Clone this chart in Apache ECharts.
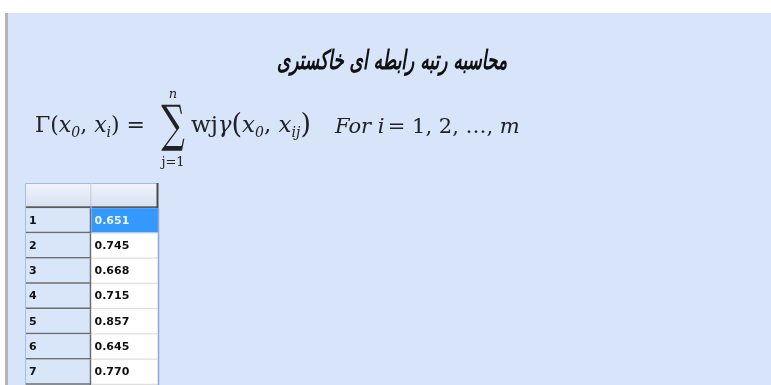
<!DOCTYPE html>
<html>
<head>
<meta charset="utf-8">
<script src="https://cdn.jsdelivr.net/npm/echarts@6/dist/echarts.min.js"></script>
<style>
html,body{margin:0;padding:0;background:#fff;}
#main{width:771px;height:385px;}
</style>
</head>
<body>
<div id="main"></div>
<script>
// grey relational grade of each alternative
const rowLabels = ['1', '2', '3', '4', '5', '6', '7'];
const gradeValues = [0.651, 0.745, 0.668, 0.715, 0.857, 0.645, 0.770];
const columns = ['label', 'grade'];
const selectedRow = 0;

const titleText = 'محاسبه رتبه رابطه ای خاکستری';

// y categories: header row first, then one row per alternative
const yCats = [''].concat(rowLabels);
const cells = [[0, 0], [1, 0]];
rowLabels.forEach((r, i) => {
    cells.push([0, i + 1]);
    cells.push([1, i + 1]);
});

const mathFont = '"DejaVu Serif", "Liberation Serif", serif';

function renderCell(params, api) {
    const col = api.value(0);
    const row = api.value(1);
    const c = api.coord([col, row]);
    const s = api.size([1, 1]);
    const x0 = c[0] - s[0] / 2, y0 = c[1] - s[1] / 2, w = s[0], h = s[1];
    const kids = [];
    if (row === 0) {
        kids.push({
            type: 'rect', shape: { x: x0, y: y0, width: w, height: h },
            style: {
                fill: new echarts.graphic.LinearGradient(0, 0, 0, 1, [
                    { offset: 0, color: '#f1f5fc' }, { offset: 1, color: '#d5e0f1' }
                ])
            }
        });
        kids.push({ type: 'line', shape: { x1: x0, y1: y0 + 0.5, x2: x0 + w, y2: y0 + 0.5 }, style: { stroke: '#a3bbdc', lineWidth: 1 } });
        kids.push({ type: 'line', shape: { x1: x0, y1: y0 + h - 1, x2: x0 + w, y2: y0 + h - 1 }, style: { stroke: '#5c5c5c', lineWidth: 2 } });
        kids.push({ type: 'line', shape: { x1: x0 + w - 0.5, y1: y0, x2: x0 + w - 0.5, y2: y0 + h }, style: { stroke: col === 0 ? '#b5bfcc' : '#4a4a4a', lineWidth: col === 0 ? 1 : 2 } });
    } else if (col === 0) {
        kids.push({ type: 'rect', shape: { x: x0, y: y0, width: w, height: h }, style: { fill: '#d9e5f9' } });
        kids.push({ type: 'line', shape: { x1: x0, y1: y0 + h - 1, x2: x0 + w, y2: y0 + h - 1 }, style: { stroke: '#6f6f6f', lineWidth: 1.5 } });
        kids.push({ type: 'line', shape: { x1: x0 + w - 1, y1: y0, x2: x0 + w - 1, y2: y0 + h }, style: { stroke: '#6a6a6a', lineWidth: 1.5 } });
        kids.push({
            type: 'text', x: x0 + 4, y: c[1],
            style: { text: rowLabels[row - 1], fill: '#111', fontSize: 11, fontWeight: 'bold', fontFamily: '"DejaVu Sans", sans-serif', verticalAlign: 'middle' }
        });
    } else {
        const sel = (row - 1) === selectedRow;
        kids.push({ type: 'rect', shape: { x: x0, y: y0, width: w, height: h }, style: { fill: sel ? '#3399ff' : '#ffffff' } });
        kids.push({ type: 'line', shape: { x1: x0, y1: y0 + h - 0.5, x2: x0 + w, y2: y0 + h - 0.5 }, style: { stroke: '#dedede', lineWidth: 1.5 } });
        kids.push({
            type: 'text', x: x0 + 3, y: c[1],
            style: { text: gradeValues[row - 1].toFixed(3), fill: sel ? '#eef4ff' : '#111', fontSize: 11, fontWeight: 'bold', fontFamily: '"DejaVu Sans", sans-serif', verticalAlign: 'middle' }
        });
    }
    if (col === 0) {
        kids.push({ type: 'line', shape: { x1: x0 + 0.5, y1: y0, x2: x0 + 0.5, y2: y0 + h }, style: { stroke: '#a6bde0', lineWidth: 1 } });
    } else if (row > 0) {
        kids.push({ type: 'line', shape: { x1: x0 + w + 0.5, y1: y0, x2: x0 + w + 0.5, y2: y0 + h }, style: { stroke: '#86a9da', lineWidth: 1.5 } });
    }
    return { type: 'group', children: kids };
}

const chart = echarts.init(document.getElementById('main'));
chart.setOption({
    backgroundColor: '#ffffff',
    animation: false,
    graphic: [
        { type: 'rect', shape: { x: 8, y: 13, width: 763, height: 372 }, style: { fill: '#d8e4fa' }, z: -10 },
        { type: 'rect', shape: { x: 5, y: 13, width: 3, height: 372 }, style: { fill: '#b4b4b4' }, z: -10 },
        {
            type: 'text', x: 392, y: 62, scaleY: 1.55,
            style: { text: titleText, fontSize: 17, fontWeight: 'bold', fontStyle: 'italic', fontFamily: '"DejaVu Sans", sans-serif', fill: '#111', align: 'center', verticalAlign: 'middle' }
        },
        {
            type: 'text', x: 35, y: 126,
            style: {
                text: '{n|Γ(}{i|x}{s|0}{n|, }{i|x}{s|i}{n|) =}',
                verticalAlign: 'middle', fill: '#222',
                rich: {
                    n: { fontSize: 22, fontFamily: mathFont, fill: '#222' },
                    i: { fontSize: 22, fontFamily: mathFont, fontStyle: 'italic', fill: '#222' },
                    s: { fontSize: 14, fontFamily: mathFont, fontStyle: 'italic', fill: '#222', padding: [14, 0, 0, 0] }
                }
            }
        },
        {
            type: 'text', x: 173, y: 128, scaleX: 0.75, scaleY: 1.15,
            style: { text: '∑', fontSize: 44, fontFamily: mathFont, fill: '#222', align: 'center', verticalAlign: 'middle' }
        },
        {
            type: 'text', x: 173, y: 95,
            style: { text: 'n', fontSize: 13, fontStyle: 'italic', fontFamily: mathFont, fill: '#222', align: 'center', verticalAlign: 'middle' }
        },
        {
            type: 'text', x: 173, y: 163,
            style: { text: 'j=1', fontSize: 13, fontFamily: mathFont, fill: '#222', align: 'center', verticalAlign: 'middle' }
        },
        {
            type: 'text', x: 191, y: 126,
            style: {
                text: '{n|wj}{i|γ}{p|(}{i|x}{s|0}{n|, }{i|x}{s|ij}{p|)}',
                verticalAlign: 'middle', fill: '#222',
                rich: {
                    n: { fontSize: 23, fontFamily: mathFont, fill: '#222' },
                    p: { fontSize: 27, fontFamily: mathFont, fill: '#222' },
                    i: { fontSize: 23, fontFamily: mathFont, fontStyle: 'italic', fill: '#222' },
                    s: { fontSize: 14, fontFamily: mathFont, fontStyle: 'italic', fill: '#222', padding: [14, 0, 0, 0] }
                }
            }
        },
        {
            type: 'text', x: 335, y: 128,
            style: {
                text: '{i|For}  {i|i} {n|= 1, 2, …, }{i|m}',
                verticalAlign: 'middle', fill: '#222',
                rich: {
                    n: { fontSize: 21, fontFamily: mathFont, fill: '#222' },
                    i: { fontSize: 21, fontFamily: mathFont, fontStyle: 'italic', fill: '#222' }
                }
            }
        }
    ],
    grid: { left: 25, top: 183, width: 133, height: 208 },
    xAxis: { type: 'category', data: columns, show: false },
    yAxis: { type: 'category', data: yCats, inverse: true, show: false },
    series: [{
        type: 'custom',
        renderItem: renderCell,
        encode: { x: 0, y: 1 },
        data: cells,
        clip: false
    }]
});
</script>
</body>
</html>
